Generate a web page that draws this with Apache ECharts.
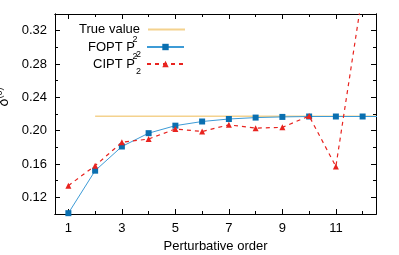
<!DOCTYPE html>
<html>
<head>
<meta charset="utf-8">
<script src="https://cdn.jsdelivr.net/npm/echarts@6/dist/echarts.min.js"></script>
<style>
html,body{margin:0;padding:0;background:#fff;}
#chart{width:399px;height:255px;}
</style>
</head>
<body>
<div id="chart"></div>
<script>
// Data
var orders = [1, 2, 3, 4, 5, 6, 7, 8, 9, 10, 11, 12];
var foptValues = [0.101, 0.152, 0.181, 0.197, 0.206, 0.211, 0.214, 0.2157, 0.2165, 0.217, 0.217, 0.217];
var ciptValues = [0.134, 0.158, 0.186, 0.190, 0.202, 0.199, 0.207, 0.203, 0.204, 0.2176, 0.157, 0.366];
var trueValue = 0.2172;
var trueRange = [2, 12.5];
var xMajorTicks = [1, 3, 5, 7, 9, 11];
var xMinorTicks = [2, 4, 6, 8, 10, 12];
var yMajorTicks = [0.12, 0.16, 0.20, 0.24, 0.28, 0.32];
var yMinorTicks = [0.14, 0.18, 0.22, 0.26, 0.30];
var seriesNames = ['True value', 'FOPT P', 'CIPT P'];

var FONT = 'Liberation Sans';
var FS = 13;
function pairs(xs, ys) { return xs.map(function (x, i) { return [x, ys[i]]; }); }

var chart = echarts.init(document.getElementById('chart'), null, {renderer: 'canvas'});

function xAxisDef(pos, ticks, len, labels) {
  return {
    type: 'value', position: pos, min: 0.5, max: 12.5,
    axisLine: {show: true, onZero: false, lineStyle: {color: '#000', width: 1}},
    axisTick: {show: true, inside: true, length: len, customValues: ticks, lineStyle: {color: '#000'}},
    axisLabel: labels ? {show: true, customValues: xMajorTicks, color: '#000', fontFamily: FONT, fontSize: FS, margin: 8} : {show: false},
    splitLine: {show: false}
  };
}
function yAxisDef(pos, ticks, len, labels) {
  return {
    type: 'value', position: pos, min: 0.1, max: 0.34,
    axisLine: {show: true, onZero: false, lineStyle: {color: '#000', width: 1}},
    axisTick: {show: true, inside: true, length: len, customValues: ticks, lineStyle: {color: '#000'}},
    axisLabel: labels ? {show: true, customValues: yMajorTicks, color: '#000', fontFamily: FONT, fontSize: FS, margin: 8,
      formatter: function (v) { return v.toFixed(2); }} : {show: false},
    splitLine: {show: false}
  };
}

var xAxes = [
  xAxisDef('bottom', xMajorTicks, 5, true),
  xAxisDef('bottom', xMinorTicks, 3, false),
  xAxisDef('top', xMajorTicks, 5, false),
  xAxisDef('top', xMinorTicks, 3, false)
];
xAxes[0].name = 'Perturbative order';
xAxes[0].nameLocation = 'middle';
xAxes[0].nameGap = 26;
xAxes[0].nameTextStyle = {color: '#000', fontFamily: FONT, fontSize: FS};

var yAxes = [
  yAxisDef('left', yMajorTicks, 5, true),
  yAxisDef('left', yMinorTicks, 3, false),
  yAxisDef('right', yMajorTicks, 5, false),
  yAxisDef('right', yMinorTicks, 3, false)
];
yAxes[0].name = '{d|δ}{s|(0)}';
yAxes[0].nameLocation = 'middle';
yAxes[0].nameRotate = 90;
yAxes[0].nameGap = 32;
yAxes[0].nameTextStyle = {color: '#000', fontFamily: FONT, fontSize: FS,
  rich: {
    d: {fontFamily: FONT, fontSize: 14, color: '#000', lineHeight: 18, verticalAlign: 'middle', padding: [0, 0, 0, 34]},
    s: {fontFamily: FONT, fontSize: 9, color: '#000', lineHeight: 10, verticalAlign: 'top'}
  }};

var legendRich = {
  m: {fontFamily: FONT, fontSize: FS, color: '#000', lineHeight: 24, verticalAlign: 'middle', padding: [0, 3, 0, 0]},
  m2: {fontFamily: FONT, fontSize: FS, color: '#000', lineHeight: 24, verticalAlign: 'middle'},
  sup: {fontFamily: FONT, fontSize: 9, color: '#000', lineHeight: 16, verticalAlign: 'top', width: 0, align: 'left'},
  sub: {fontFamily: FONT, fontSize: 9, color: '#000', lineHeight: 16, verticalAlign: 'bottom', width: 7, align: 'left'}
};
function legendDef(name, top, ih, extra) {
  var item = {name: name};
  if (extra) { for (var k in extra) item[k] = extra[k]; }
  return {
    orient: 'vertical', align: 'right',
    right: 214, top: top, padding: 0,
    itemWidth: 37, itemHeight: ih,
    data: [item],
    formatter: function (n) {
      if (n === seriesNames[0]) return '{m|' + n + '}';
      return '{m2|' + n + '}{sup|2}{sub|2}';
    },
    textStyle: {color: '#000', fontFamily: FONT, fontSize: FS, rich: legendRich}
  };
}

var option = {
  animation: false,
  backgroundColor: '#fff',
  grid: {left: 55, right: 23, top: 14, bottom: 41, show: false, containLabel: false, outerBoundsMode: 'none'},
  xAxis: xAxes,
  yAxis: yAxes,
  legend: [
    legendDef(seriesNames[0], 23, 2, {icon: 'rect', itemStyle: {color: '#f4d28e'}}),
    legendDef(seriesNames[1], 35, 8),
    legendDef(seriesNames[2], 52, 8)
  ],
  series: [
    {
      name: seriesNames[0], type: 'line',
      data: [[trueRange[0], trueValue], [trueRange[1], trueValue]],
      showSymbol: false, symbol: 'none',
      lineStyle: {color: '#f4d28e', width: 1.5},
      itemStyle: {color: '#f4d28e'},
      z: 1
    },
    {
      name: seriesNames[1], type: 'line',
      data: pairs(orders, foptValues).concat([{value: [13, foptValues[foptValues.length - 1]], symbol: 'none'}]),
      symbol: 'rect', symbolSize: 6, showAllSymbol: true,
      lineStyle: {color: '#3d9bd6', width: 1},
      itemStyle: {color: '#0a6fb0'},
      clip: true,
      z: 2
    },
    {
      name: seriesNames[2], type: 'line',
      data: pairs(orders, ciptValues),
      symbol: 'triangle', symbolSize: 6, showAllSymbol: true,
      lineStyle: {color: '#e8231f', width: 1.2, type: [4, 4]},
      itemStyle: {color: '#e8231f'},
      clip: true,
      z: 3
    }
  ]
};
chart.setOption(option);
</script>
</body>
</html>
